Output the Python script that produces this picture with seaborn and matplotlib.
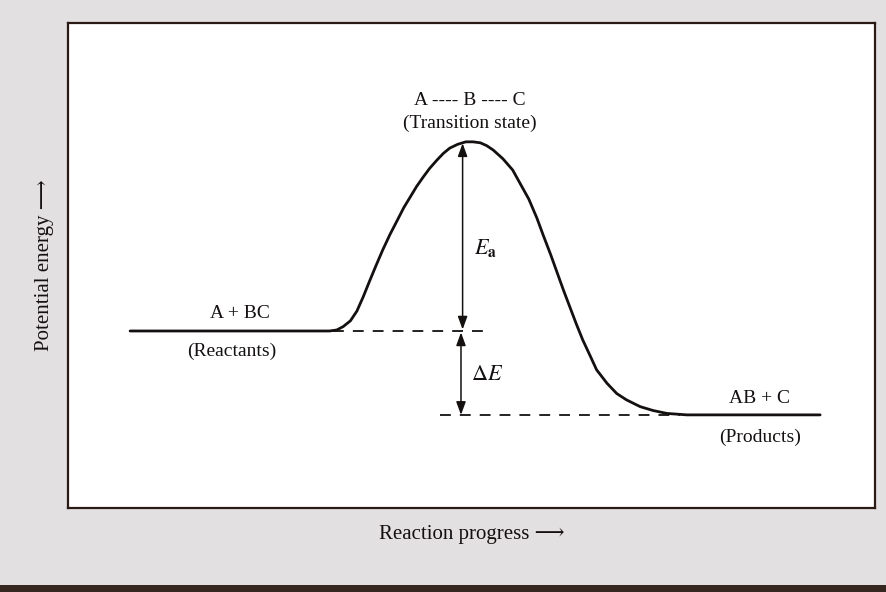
import matplotlib
matplotlib.use("Agg")
import matplotlib.pyplot as plt
import seaborn as sns
import pandas as pd
from matplotlib.patches import Rectangle

# Reaction coordinate (0-100) and potential energy (arbitrary units 0-100)
progress = [7.7, 32.4, 33.3, 34.1, 35.0, 35.8, 36.6, 37.4, 38.2, 39.0, 39.9,
            40.8, 41.6, 42.4, 43.2, 44.0, 44.8, 45.7, 46.5, 47.3, 48.3, 49.3,
            50.2, 51.1, 51.9, 52.7, 53.9, 55.1, 56.0, 57.1, 58.1, 58.9, 59.8,
            60.6, 61.4, 62.2, 63.0, 63.8, 64.7, 65.5, 66.8, 68.0, 69.2, 70.9,
            72.5, 74.2, 76.7, 93.2]
energy = [36.5, 36.5, 36.7, 37.4, 38.6, 40.6, 43.6, 46.9, 50.1, 53.2, 56.4,
          59.3, 61.9, 64.1, 66.3, 68.2, 70.0, 71.7, 73.1, 74.2, 75.0, 75.5,
          75.5, 75.3, 74.7, 73.8, 72.0, 69.7, 67.0, 63.7, 59.8, 56.2, 52.3,
          48.6, 44.9, 41.4, 37.9, 34.6, 31.4, 28.5, 25.7, 23.6, 22.3, 20.9,
          20.1, 19.5, 19.2, 19.2]

reactant_level = 36.5
product_level = 19.2
peak_level = 75.5
arrow_x = 48.9

labels = {
    "transition": "A ---- B ---- C",
    "transition_note": "(Transition state)",
    "reactants": "A + BC",
    "reactants_note": "(Reactants)",
    "products": "AB + C",
    "products_note": "(Products)",
}

df = pd.DataFrame({"progress": progress, "energy": energy})

sns.set_theme(style="white")
plt.rcParams["font.family"] = ["Liberation Serif", "DejaVu Serif"]
plt.rcParams["mathtext.fontset"] = "stix"

fig = plt.figure(figsize=(8.86, 5.92), dpi=100, facecolor="#e3e0e2")
fig.patches.append(Rectangle((0, 0), 1, 0.012, transform=fig.transFigure,
                             facecolor="#35271f", edgecolor="none", zorder=0))
ax = fig.add_axes([0.0767, 0.1419, 0.9109, 0.8192])
ax.set_facecolor("white")

ink = "#141010"
sns.lineplot(data=df, x="progress", y="energy", sort=False, ax=ax,
             color=ink, linewidth=2.0, estimator=None)

# reference levels
ax.plot([32.8, 52.0], [reactant_level, reactant_level], color=ink,
        linewidth=1.3, dashes=(6, 5))
ax.plot([46.1, 75.8], [product_level, product_level], color=ink,
        linewidth=1.3, dashes=(6, 5))

# activation energy and energy change arrows
arrow_kw = dict(arrowstyle="<|-|>,head_length=0.6,head_width=0.22", color=ink,
                linewidth=1.1, mutation_scale=13, shrinkA=0, shrinkB=0)
ax.annotate("", xy=(arrow_x, peak_level - 0.3), xytext=(arrow_x, reactant_level + 0.3),
            arrowprops=arrow_kw)
ax.annotate("", xy=(arrow_x - 0.2, reactant_level - 0.3),
            xytext=(arrow_x - 0.2, product_level),
            arrowprops=arrow_kw)

fs = 14
ax.text(49.8, 84.1, labels["transition"], ha="center", va="center", fontsize=fs, color=ink)
ax.text(49.8, 79.4, labels["transition_note"], ha="center", va="center", fontsize=fs, color=ink)
ax.text(21.3, 40.2, labels["reactants"], ha="center", va="center", fontsize=fs, color=ink)
ax.text(20.3, 32.2, labels["reactants_note"], ha="center", va="center", fontsize=fs, color=ink)
ax.text(85.7, 22.5, labels["products"], ha="center", va="center", fontsize=fs, color=ink)
ax.text(85.7, 14.6, labels["products_note"], ha="center", va="center", fontsize=fs, color=ink)
ax.text(50.3, 53.6, r"$E_{\mathbf{a}}$", ha="left", va="center", fontsize=16, color=ink)
ax.text(49.9, 27.4, r"$\Delta E$", ha="left", va="center", fontsize=16, color=ink)

ax.set_xlim(0, 100)
ax.set_ylim(0, 100)
ax.set_xticks([])
ax.set_yticks([])
ax.set_xlabel("Reaction progress \u27f6", fontsize=15, color=ink, labelpad=12)
ax.set_ylabel("Potential energy \u27f6", fontsize=15, color=ink, labelpad=10)
for s in ax.spines.values():
    s.set_visible(True)
    s.set_color("#2a1a14")
    s.set_linewidth(1.6)

fig.savefig("out.png", dpi=100, facecolor=fig.get_facecolor())
